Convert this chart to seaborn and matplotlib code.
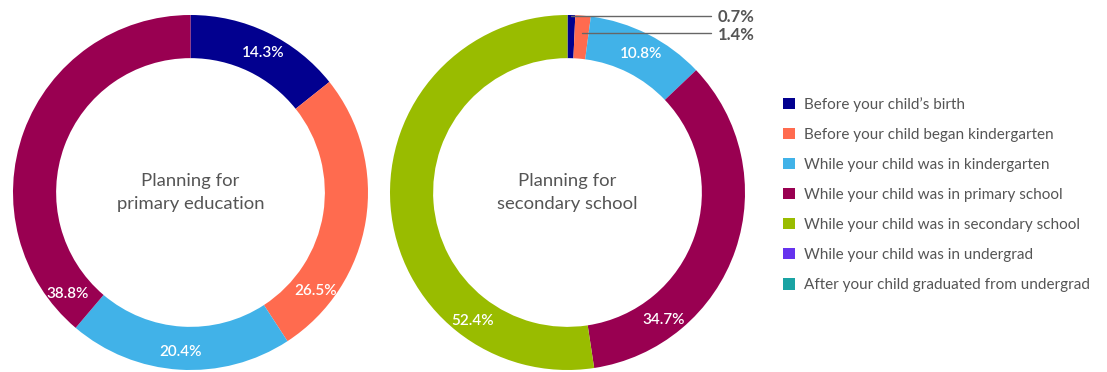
import numpy as np
import matplotlib
matplotlib.use("Agg")
import matplotlib.pyplot as plt
import seaborn as sns
from matplotlib.patches import Patch

categories = [
    "Before your child\u2019s birth",
    "Before your child began kindergarten",
    "While your child was in kindergarten",
    "While your child was in primary school",
    "While your child was in secondary school",
    "While your child was in undergrad",
    "After your child graduated from undergrad",
]
colors = ["#02008F", "#FF6B4F", "#41B2E8", "#990051", "#99BC00", "#6633EE", "#1AA3A3"]

primary_idx = [0, 1, 2, 3]
primary_values = [14.3, 26.5, 20.4, 38.8]
primary_label_frac = [0.53, 0.8, 0.5, 0.075]

secondary_idx = [0, 1, 2, 3, 4]
secondary_values = [0.7, 1.4, 10.8, 34.7, 52.4]
secondary_label_frac = [0.5, 0.5, 0.52, 0.77, 0.24]
secondary_callouts = [0, 1]

titles = ["Planning for\nprimary education", "Planning for\nsecondary school"]

sns.set_style("white")
plt.rcParams["font.family"] = ["Lato", "DejaVu Sans"]

W, H = 1107, 372
fig = plt.figure(figsize=(W / 100, H / 100), dpi=100)

def donut(cx, cy, r, idx, values, fracs, title, callouts=()):
    ax = fig.add_axes([(cx - r) / W, (H - cy - r) / H, 2 * r / W, 2 * r / H])
    width = 0.243
    ax.pie(values, colors=[colors[i] for i in idx], startangle=90, counterclock=False,
           radius=1, wedgeprops=dict(width=width, linewidth=0))
    ax.set_xlim(-1, 1)
    ax.set_ylim(-1, 1)
    ax.set_aspect("equal")
    ax.axis("off")
    ax.text(0, 0, title, ha="center", va="center", fontsize=13.3, color="#555555",
            linespacing=1.55)
    total = sum(values)
    cum = 0
    rm = 0.893
    for k, v in enumerate(values):
        a0 = cum / total * 360
        a1 = (cum + v) / total * 360
        cum += v
        if k in callouts:
            continue
        ang = np.deg2rad(a0 + fracs[k] * (a1 - a0))
        ax.text(rm * np.sin(ang), rm * np.cos(ang), f"{v:.1f}%", ha="center",
                va="center_baseline", color="white", fontsize=11, fontweight="semibold")
    return ax

donut(190.5, 192.5, 177.5, primary_idx, primary_values, primary_label_frac, titles[0])
ax2 = donut(567.5, 192.5, 177.5, secondary_idx, secondary_values, secondary_label_frac,
            titles[1], callouts=secondary_callouts)

# callouts for tiny slices
r = 177.5
cum = 0
ys = [16, 33]
x_line_end = 711
for n, k in enumerate(secondary_callouts):
    v = secondary_values[k]
    mid = np.deg2rad((cum + v / 2) / 100 * 360)
    cum += v
    yy = (192.5 - ys[n]) / r
    if n == 0:
        yy = 0.995
        x0 = np.sin(mid) * 0.99
    else:
        x0 = 0.9 * np.sin(mid)
    x1 = (x_line_end - 567.5) / r
    ax2.plot([x0, x1], [yy, yy], color="#666666", lw=1, clip_on=False)
    ax2.text(x1 + 7 / r, yy - 1.5 / r, f"{v:.1f}%", ha="left", va="center",
             fontsize=12, fontweight="bold", color="#555555", clip_on=False)

# legend
handles = [Patch(facecolor=c, edgecolor="none") for c in colors]
fig.legend(handles, categories, loc="upper left", bbox_to_anchor=(777 / W, 1 - 91 / H),
           frameon=False, fontsize=11, labelcolor="#555555", handlelength=0.75,
           handleheight=0.75, handletextpad=0.6, labelspacing=1.05, borderaxespad=0)

fig.savefig("out.png", dpi=100)
